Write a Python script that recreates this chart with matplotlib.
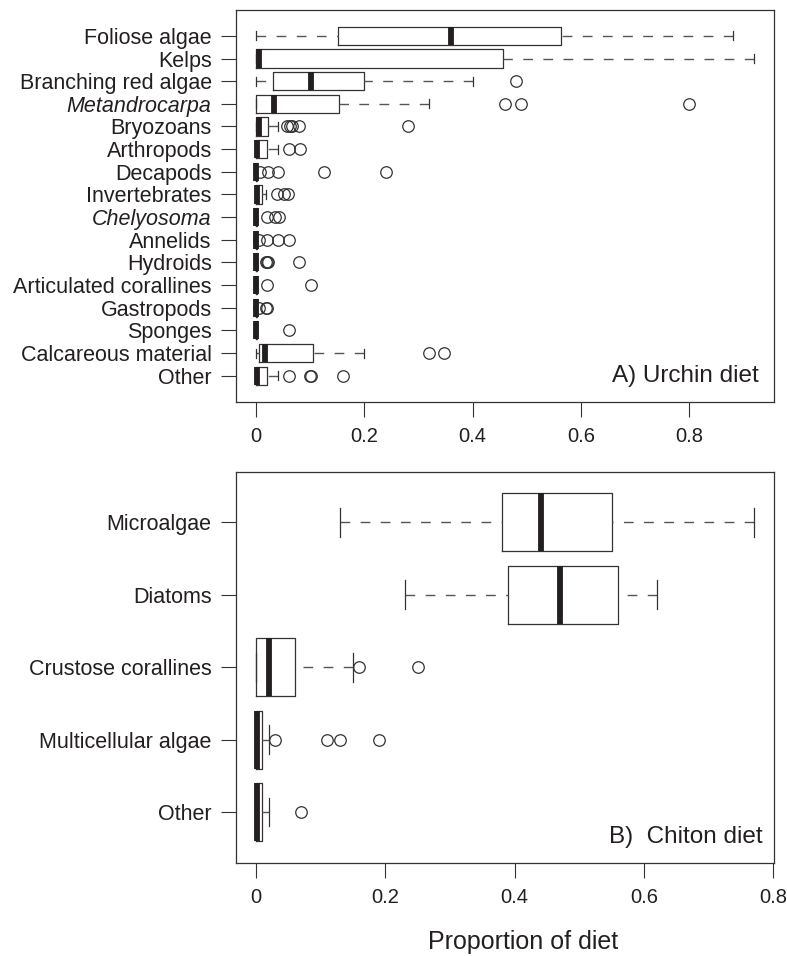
import matplotlib
matplotlib.use('Agg')
import matplotlib.pyplot as plt

plt.rcParams['font.family'] = ['Liberation Sans', 'DejaVu Sans']

INK = '#231f20'
LINE = '#333333'
WHISK = '#555555'

# urchin gut contents, top to bottom
urchin_cats = ['Foliose algae', 'Kelps', 'Branching red algae', 'Metandrocarpa',
               'Bryozoans', 'Arthropods', 'Decapods', 'Invertebrates',
               'Chelyosoma', 'Annelids', 'Hydroids', 'Articulated corallines',
               'Gastropods', 'Sponges', 'Calcareous material', 'Other']
urchin_lo = [0, 0, 0, 0, 0, 0, 0, 0, 0, 0, 0, 0, 0, 0, 0, 0]
urchin_q1 = [0.152, 0, 0.031, 0, 0, 0, 0, 0, 0, 0, 0, 0, 0, 0, 0.005, 0]
urchin_med = [0.361, 0.005, 0.101, 0.034, 0.006, 0.002, 0, 0.002,
              0, 0, 0, 0, 0, 0, 0.017, 0.002]
urchin_q3 = [0.563, 0.456, 0.200, 0.153, 0.023, 0.021, 0.002, 0.012,
             0.002, 0.002, 0.002, 0.002, 0.002, 0.002, 0.106, 0.020]
urchin_hi = [0.881, 0.92, 0.40, 0.32, 0.041, 0.040, 0.002, 0.018,
             0.002, 0.002, 0.002, 0.002, 0.002, 0.002, 0.20, 0.040]
urchin_out = [[], [], [0.481], [0.46, 0.49, 0.80],
              [0.057, 0.062, 0.067, 0.08, 0.28], [0.061, 0.081],
              [0.008, 0.022, 0.04, 0.126, 0.241], [0.038, 0.051, 0.059],
              [0.02, 0.036, 0.042], [0.005, 0.02, 0.04, 0.061],
              [0.018, 0.02, 0.022, 0.079], [0.02, 0.101],
              [0.006, 0.018, 0.021], [0.061], [0.32, 0.348],
              [0.061, 0.099, 0.101, 0.161]]
italic_cats = {'Metandrocarpa', 'Chelyosoma'}

# chiton gut contents, top to bottom
chiton_cats = ['Microalgae', 'Diatoms', 'Crustose corallines',
               'Multicellular algae', 'Other']
chiton_lo = [0.130, 0.231, 0, 0, 0]
chiton_q1 = [0.380, 0.390, 0, 0, 0]
chiton_med = [0.44, 0.47, 0.02, 0.002, 0.002]
chiton_q3 = [0.550, 0.560, 0.060, 0.010, 0.010]
chiton_hi = [0.770, 0.620, 0.150, 0.020, 0.020]
chiton_out = [[], [], [0.159, 0.25], [0.03, 0.11, 0.13, 0.19], [0.07]]

xticks = [0, 0.2, 0.4, 0.6, 0.8]
xticklabels = ['0', '0.2', '0.4', '0.6', '0.8']


def make_stats(cats, lo, q1, med, q3, hi, out):
    return [dict(label=c, whislo=a, q1=b, med=m, q3=d, whishi=e, fliers=f)
            for c, a, b, m, d, e, f in zip(cats, lo, q1, med, q3, hi, out)]


def draw_panel(ax, stats, xmax, tag, tag_x, tag_y):
    n = len(stats)
    pos = list(range(n, 0, -1))
    res = ax.bxp(stats, positions=pos, widths=0.8, capwidths=0.4,
                 orientation='horizontal', manage_ticks=False,
                 boxprops=dict(color=LINE, lw=0.9),
                 whiskerprops=dict(color=WHISK, lw=1.0, linestyle=(0, (7, 7.5))),
                 capprops=dict(color=LINE, lw=0.9),
                 medianprops=dict(color=INK, lw=4.2, solid_capstyle='butt'),
                 flierprops=dict(marker='o', mfc='none', mec=LINE, ms=8.3,
                                 mew=0.9))
    # dashes start at the whisker end, as in R
    for w in res['whiskers']:
        xd, yd = w.get_data()
        w.set_data(xd[::-1], yd[::-1])

    ext = 0.04 * xmax
    ax.set_xlim(-ext, xmax + ext)
    ax.set_ylim(0.5 - 0.04 * n, n + 0.5 + 0.04 * n)
    ax.set_yticks(pos)
    ax.set_yticklabels([s['label'] for s in stats])
    for lbl in ax.get_yticklabels():
        if lbl.get_text() in italic_cats:
            lbl.set_style('italic')
    ax.set_xticks(xticks)
    ax.set_xticklabels(xticklabels)
    ax.tick_params(axis='y', length=10.5, width=0.8, color=LINE, pad=7,
                   labelsize=15.5, labelcolor=INK)
    ax.tick_params(axis='x', length=10.5, width=0.8, color=LINE, pad=8,
                   labelsize=14.5, labelcolor=INK)
    for sp in ax.spines.values():
        sp.set_color(LINE)
        sp.set_linewidth(0.9)
    ax.text(tag_x, tag_y, tag, transform=ax.transAxes, ha='right',
            va='baseline', fontsize=17.5, color=INK)


fig = plt.figure(figsize=(7.87, 9.56), dpi=100)
ax_top = fig.add_axes([0.2999, 0.5800, 0.6836, 0.4095])
ax_bot = fig.add_axes([0.2999, 0.0976, 0.6836, 0.4090])

draw_panel(ax_top, make_stats(urchin_cats, urchin_lo, urchin_q1, urchin_med,
                              urchin_q3, urchin_hi, urchin_out),
           0.92, 'A) Urchin diet', 0.971, 0.051)
draw_panel(ax_bot, make_stats(chiton_cats, chiton_lo, chiton_q1, chiton_med,
                              chiton_q3, chiton_hi, chiton_out),
           0.77, 'B)  Chiton diet', 0.978, 0.050)

fig.text(0.6646, 0.007, 'Proportion of diet', ha='center', va='baseline',
         fontsize=18, color=INK)

fig.savefig('out.png', dpi=100)
